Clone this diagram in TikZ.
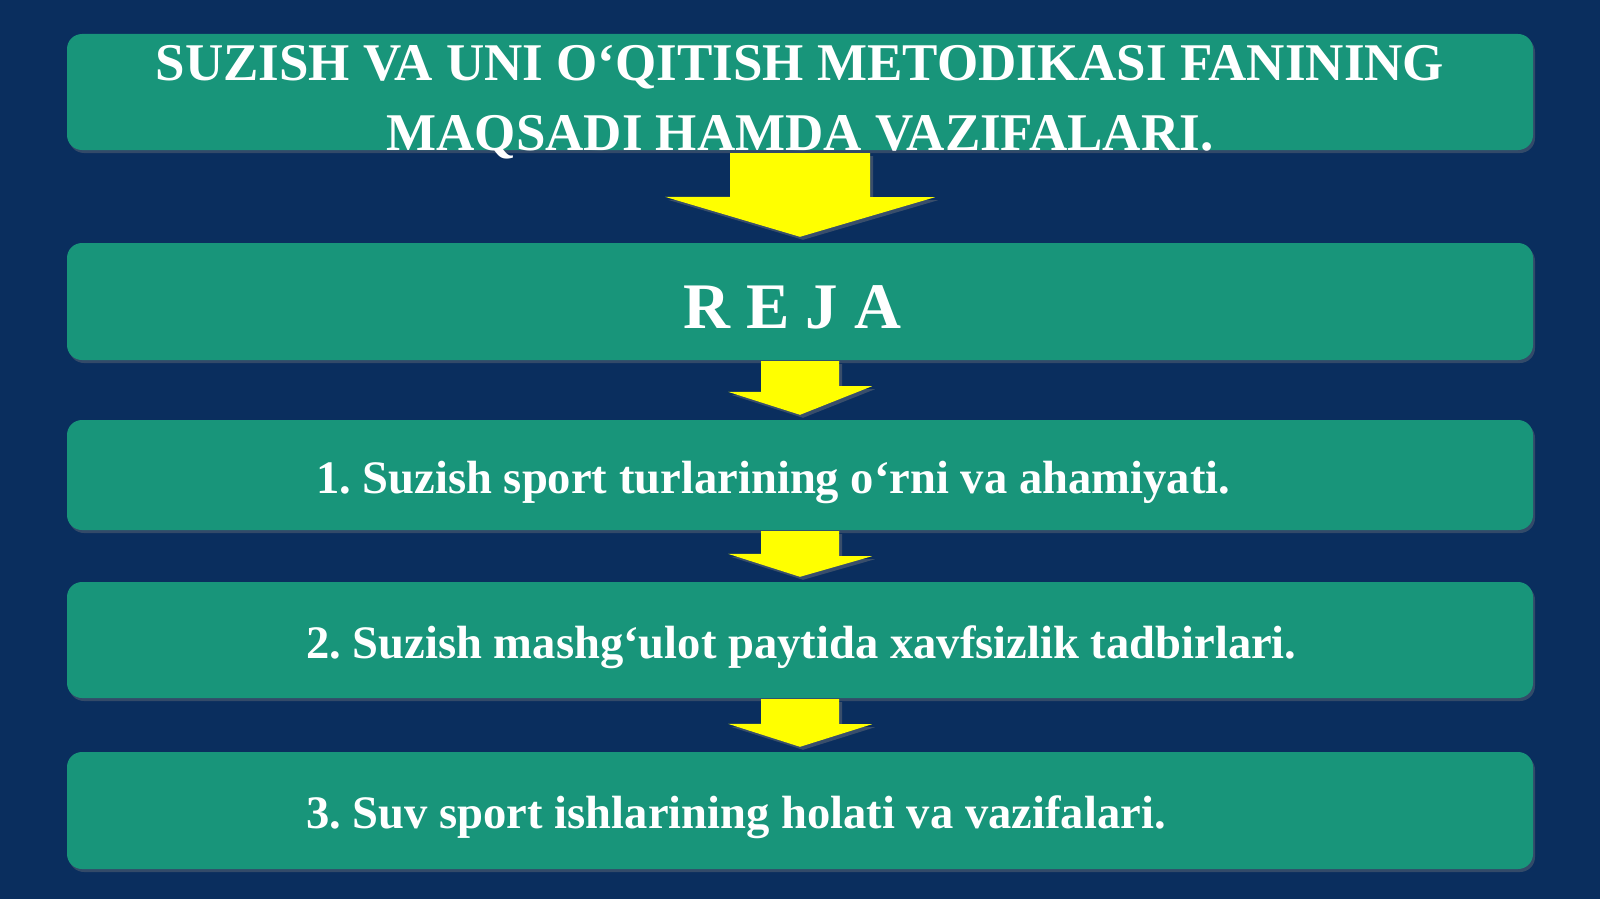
\documentclass[tikz,border=0pt]{standalone}
\usepackage{fontspec}
\setmainfont{Liberation Serif}
\usetikzlibrary{calc, shadows}
\definecolor{navybg}{RGB}{10,46,94}
\definecolor{tealbox}{RGB}{24,149,122}
\definecolor{arrowyellow}{RGB}{255,255,0}
\frenchspacing

\begin{document}
\begin{tikzpicture}[x=1pt, y=-1pt,
  box/.style={rectangle, fill=tealbox, rounded corners=15pt, minimum width=1466pt, inner sep=0pt,
    drop shadow={shadow xshift=2pt, shadow yshift=-3pt, opacity=0.35}},
  label/.style={text=white, inner sep=0pt, font=\bfseries\fontsize{46.6}{56}\selectfont},
  blockarrow/.style={fill=arrowyellow, drop shadow={shadow xshift=3pt, shadow yshift=-3pt, opacity=0.4}}
]
  % Background
  \fill[navybg] (0,0) rectangle (1600,899);
  \useasboundingbox (0,0) rectangle (1600,899);

  % Boxes
  \node[box, minimum height=116pt] (title) at (800,92) {};
  \node[box, minimum height=117pt] (reja) at (800,301.5) {};
  \node[box, minimum height=110pt] (itemA) at (800,475) {};
  \node[box, minimum height=116pt] (itemB) at (800,640) {};
  \node[box, minimum height=117pt] (itemC) at (800,810.5) {};

  % Texts
  \node[label, anchor=base, font=\bfseries\fontsize{53}{60}\selectfont] (titleA) at (800,81) {SUZISH VA UNI O‘QITISH METODIKASI FANINING};
  \node[label, anchor=base, font=\bfseries\fontsize{53}{60}\selectfont] (titleB) at (800,150) {MAQSADI HAMDA VAZIFALARI.};
  \node[label, anchor=base west, font=\bfseries\fontsize{65}{72}\selectfont] (rejatext) at (683,328) {R E J A};
  \node[label, anchor=base west] (textA) at (316,493) {1. Suzish sport turlarining o‘rni va ahamiyati.};
  \node[label, anchor=base west] (textB) at (306,658) {2. Suzish mashg‘ulot paytida xavfsizlik tadbirlari.};
  \node[label, anchor=base west] (textC) at (306,828) {3. Suv sport ishlarining holati va vazifalari.};

  % Arrows
  \fill[blockarrow] ($(title.south)+(-70,3)$) -- ++(140,0) -- ++(0,44) -- ++(65,0)
    -- ($(reja.north)+(0,-6)$) -- ++(-135,-40) -- ++(65,0) -- cycle;
  \foreach \from/\to in {reja/itemA, itemA/itemB, itemB/itemC}
    \fill[blockarrow] ($(\from.south)+(-39,1)$) -- ++(78,0) -- ++(0,25) -- ++(33,0)
      -- ($(\to.north)+(0,-5)$) -- ++(-72,-23) -- ++(33,0) -- cycle;
\end{tikzpicture}
\end{document}
